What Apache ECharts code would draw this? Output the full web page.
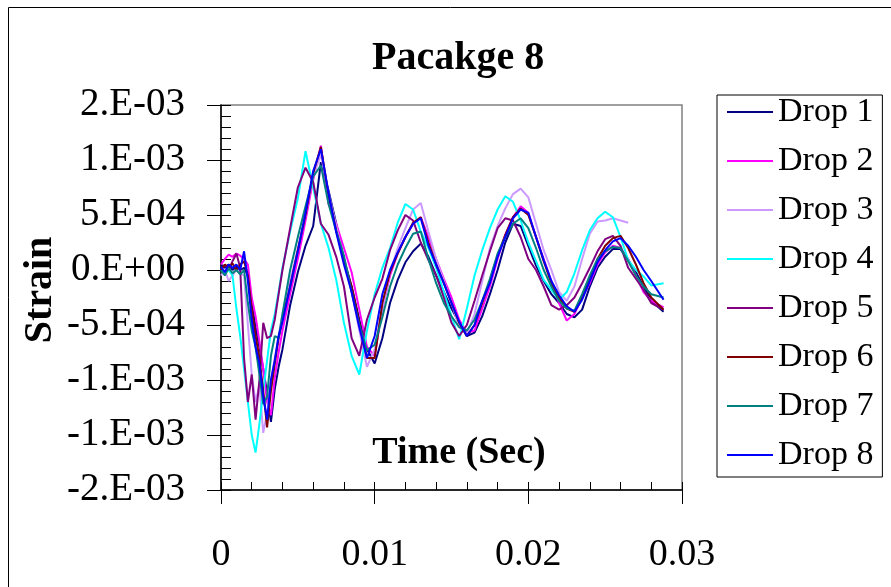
<!DOCTYPE html>
<html>
<head>
<meta charset="utf-8">
<script src="https://cdn.jsdelivr.net/npm/echarts@6/dist/echarts.min.js"></script>
<style>
  html, body { margin: 0; padding: 0; background: #fff; }
  #chart { width: 891px; height: 587px; }
</style>
</head>
<body>
<div id="chart"></div>
<script>
// time in ms, strain in units of 1e-3
const times = [0, 0.25, 0.5, 0.75, 1, 1.25, 1.5, 1.75, 2, 2.25, 2.5, 2.75, 3, 3.25, 3.5, 3.75, 4,
  4.5, 5, 5.5, 6, 6.5, 7, 7.5, 8, 8.5, 9, 9.5, 10, 10.5, 11, 11.5, 12, 12.5, 13, 13.5, 14, 14.5,
  15, 15.5, 16, 16.5, 17, 17.5, 18, 18.5, 19, 19.5, 20, 20.5, 21, 21.5, 22, 22.5, 23, 23.5, 24,
  24.5, 25, 25.5, 26, 26.5, 27, 27.5, 28, 28.8];

const drop1 = [0.05, 0.02, 0.05, 0, 0.03, 0, 0.02, -0.05, -0.3, -0.52, -0.7, -0.9, -1.12, -1.38, -1.08, -0.88, -0.72,
  -0.32, -0.02, 0.22, 0.4, 0.98, 0.72, 0.42, 0.1, -0.15, -0.45, -0.72, -0.85, -0.62, -0.3, -0.09, 0.07, 0.17, 0.24,
  0.12, -0.05, -0.2, -0.35, -0.48, -0.6, -0.57, -0.42, -0.22, 0, 0.25, 0.42, 0.4, 0.22, 0.04, -0.1, -0.22, -0.3,
  -0.4, -0.43, -0.36, -0.15, 0.02, 0.12, 0.19, 0.19, 0.09, -0.02, -0.15, -0.28, -0.38];
const drop2 = [0.05, 0.1, 0.14, 0.12, 0.15, 0.13, 0.1, 0.05, -0.25, -0.42, -0.65, -0.9, -1.2, -1.32, -0.98, -0.75, -0.55,
  -0.22, 0.1, 0.45, 0.82, 1.13, 0.6, 0.42, 0.2, -0.02, -0.36, -0.7, -0.78, -0.35, -0.05, 0.15, 0.3, 0.42, 0.48,
  0.3, 0.1, -0.08, -0.25, -0.45, -0.57, -0.55, -0.35, -0.15, 0.1, 0.32, 0.48, 0.58, 0.52, 0.3, 0.1, -0.1, -0.3,
  -0.46, -0.4, -0.25, -0.12, 0.05, 0.16, 0.22, 0.2, 0.1, -0.05, -0.2, -0.28, -0.34];
const drop3 = [-0.05, 0, -0.1, -0.05, 0, -0.03, -0.05, -0.5, -0.95, -1.2, -1.05, -1.48, -1.3, -1.0, -0.8, -0.6, -0.4,
  -0.1, 0.2, 0.5, 0.85, 1.05, 0.7, 0.4, 0.1, -0.2, -0.55, -0.88, -0.72, -0.35, -0.02, 0.2, 0.38, 0.55, 0.61,
  0.35, 0.1, -0.1, -0.3, -0.52, -0.58, -0.4, -0.1, 0.2, 0.4, 0.56, 0.69, 0.74, 0.66, 0.42, 0.18, 0, -0.2,
  -0.28, -0.15, 0.1, 0.33, 0.44, 0.45, 0.47, 0.45, 0.43, null, null, null, null];
const drop4 = [0, -0.03, 0, -0.05, -0.35, -0.6, -0.9, -1.2, -1.5, -1.66, -1.4, -1.1, -0.82, -0.55, -0.4, -0.2, 0.02,
  0.35, 0.65, 1.08, 0.75, 0.42, 0.2, -0.09, -0.48, -0.78, -0.95, -0.55, -0.22, 0.02, 0.2, 0.43, 0.6, 0.55, 0.35,
  0.2, 0.02, -0.2, -0.42, -0.63, -0.35, -0.05, 0.18, 0.38, 0.55, 0.67, 0.62, 0.45, 0.25, 0.08, -0.09, -0.18, -0.27,
  -0.2, -0.03, 0.18, 0.36, 0.47, 0.53, 0.48, 0.3, 0.09, 0, -0.06, -0.14, -0.12];
const drop5 = [0, 0.05, 0, 0.08, 0.15, 0.02, -0.8, -1.2, -0.95, -1.36, -1.0, -0.48, -0.62, -0.6, -0.45, -0.22, 0,
  0.38, 0.75, 0.93, 0.8, 0.42, 0.32, 0.12, -0.15, -0.62, -0.78, -0.45, -0.25, -0.08, 0.18, 0.36, 0.5, 0.45, 0.25,
  0.09, -0.05, -0.25, -0.48, -0.6, -0.5, -0.28, -0.05, 0.17, 0.38, 0.47, 0.45, 0.3, 0.1, 0, -0.15, -0.32, -0.36,
  -0.32, -0.25, -0.12, 0.02, 0.17, 0.28, 0.31, 0.22, 0.02, -0.08, -0.18, -0.3, -0.36];
const drop6 = [0, 0.05, 0.02, 0.06, 0, 0.05, 0.08, -0.05, -0.35, -0.6, -0.8, -1.1, -1.43, -1.1, -0.85, -0.62, -0.45,
  -0.15, 0.18, 0.5, 0.88, 1.12, 0.68, 0.36, 0.08, -0.15, -0.48, -0.8, -0.8, -0.3, -0.02, 0.15, 0.3, 0.43, 0.48,
  0.25, 0.05, -0.12, -0.3, -0.48, -0.6, -0.5, -0.3, -0.1, 0.13, 0.32, 0.48, 0.56, 0.5, 0.3, 0.08, -0.12, -0.25,
  -0.35, -0.38, -0.25, -0.08, 0.1, 0.22, 0.29, 0.31, 0.2, 0.05, -0.12, -0.25, -0.36];
const drop7 = [0, -0.05, 0.02, -0.03, 0, -0.04, 0, -0.3, -0.55, -0.7, -0.95, -1.22, -1.15, -0.78, -0.6, -0.62, -0.4,
  0, 0.3, 0.58, 0.85, 0.95, 0.6, 0.35, 0.13, -0.2, -0.5, -0.73, -0.68, -0.43, -0.15, 0.05, 0.2, 0.33, 0.35,
  0.1, -0.12, -0.3, -0.42, -0.52, -0.55, -0.45, -0.28, -0.08, 0.15, 0.3, 0.42, 0.47, 0.38, 0.2, 0, -0.15, -0.28,
  -0.35, -0.37, -0.22, -0.05, 0.1, 0.17, 0.21, 0.2, 0.08, -0.05, -0.15, -0.22, -0.25];
const drop8 = [0.03, -0.02, 0.05, 0.02, 0.05, 0, 0.17, -0.1, -0.45, -0.7, -0.85, -1.15, -1.36, -1.0, -0.82, -0.6, -0.47,
  -0.15, 0.17, 0.52, 0.9, 1.1, 0.7, 0.34, 0.05, -0.2, -0.52, -0.8, -0.6, -0.22, 0, 0.16, 0.3, 0.42, 0.47,
  0.22, 0.05, -0.12, -0.3, -0.47, -0.6, -0.5, -0.28, -0.12, 0.12, 0.3, 0.47, 0.55, 0.52, 0.3, 0.09, -0.1, -0.23,
  -0.33, -0.38, -0.27, -0.1, 0.07, 0.18, 0.26, 0.29, 0.22, 0.12, 0, -0.1, -0.27];

const seriesNames = ['Drop 1', 'Drop 2', 'Drop 3', 'Drop 4', 'Drop 5', 'Drop 6', 'Drop 7', 'Drop 8'];
const seriesValues = [drop1, drop2, drop3, drop4, drop5, drop6, drop7, drop8];
const colors = ['#000080', '#FF00FF', '#CC99FF', '#00FFFF', '#800080', '#800000', '#008080', '#0000FF'];

// y tick labels from bottom (-0.002) to top (0.0015), as printed on the chart
const yTickLabels = ['-2.E-03', '-1.E-03', '-1.E-03', '-5.E-04', '0.E+00', '5.E-04', '1.E-03', '2.E-03'];
const Y_MIN = -0.002, Y_MAX = 0.0015, Y_STEP = 0.0005;

const FONT = "'Liberation Serif', 'Times New Roman', serif";

const series = seriesNames.map((name, i) => ({
  name: name,
  type: 'line',
  xAxisIndex: 0,
  yAxisIndex: 0,
  symbol: 'none',
  connectNulls: false,
  lineStyle: { width: 2, color: colors[i] },
  itemStyle: { color: colors[i] },
  data: times.map((t, k) => [t / 1000, seriesValues[i][k] == null ? null : seriesValues[i][k] / 1000])
}));

const option = {
  animation: false,
  backgroundColor: '#fff',
  title: {
    text: 'Pacakge 8',
    left: 372,
    top: 39,
    padding: 0,
    textStyle: { fontFamily: FONT, fontSize: 40, fontWeight: 'bold', color: '#000' }
  },
  legend: {
    orient: 'vertical',
    left: 717,
    top: 95,
    padding: [0, 9, 5, 10],
    itemGap: 15,
    itemWidth: 46,
    itemHeight: 2,
    itemTextGap: 17,
    icon: 'rect',
    borderColor: '#000',
    borderWidth: 1,
    textStyle: { fontFamily: FONT, fontSize: 34, color: '#000' },
    data: seriesNames
  },
  grid: {
    left: 221, top: 105, right: 209, bottom: 97,
    outerBoundsMode: 'none',
    containLabel: false,
    show: true, borderColor: '#808080', borderWidth: 1.5, backgroundColor: 'transparent'
  },
  xAxis: [
    {
      type: 'value', min: 0, max: 0.03, interval: 0.01, position: 'bottom',
      axisLine: { show: true, onZero: false, lineStyle: { color: '#000', width: 1.5 } },
      axisTick: { show: true, inside: false, length: 14, lineStyle: { color: '#000' } },
      axisLabel: { margin: 46, fontFamily: FONT, fontSize: 38, color: '#000' },
      splitLine: { show: false }
    },
    {
      type: 'value', min: 0, max: 0.03, interval: 0.01, position: 'bottom',
      axisLine: { show: false, onZero: false },
      axisTick: { show: true, inside: true, length: 8, lineStyle: { color: '#000' } },
      minorTick: { show: true, splitNumber: 5, length: 8, lineStyle: { color: '#000' } },
      axisLabel: { show: false },
      splitLine: { show: false }
    }
  ],
  yAxis: [
    {
      type: 'value', min: Y_MIN, max: Y_MAX, interval: Y_STEP, position: 'left',
      axisLine: { show: true, onZero: false, lineStyle: { color: '#000', width: 1.5 } },
      axisTick: { show: true, inside: false, length: 14, lineStyle: { color: '#000' } },
      axisLabel: {
        margin: 36, fontFamily: FONT, fontSize: 39, color: '#000', padding: [4, 0, 0, 0],
        formatter: v => yTickLabels[Math.round((v - Y_MIN) / Y_STEP)]
      },
      splitLine: { show: false }
    },
    {
      type: 'value', min: Y_MIN, max: Y_MAX, interval: Y_STEP, position: 'left',
      axisLine: { show: false, onZero: false },
      axisTick: { show: true, inside: true, length: 10, lineStyle: { color: '#000' } },
      minorTick: { show: true, splitNumber: 5, length: 10, lineStyle: { color: '#000' } },
      axisLabel: { show: false },
      splitLine: { show: false }
    }
  ],
  graphic: [
    {
      type: 'rect',
      shape: { x: 8.5, y: 7.5, width: 1000, height: 1000 },
      style: { fill: 'none', stroke: '#000', lineWidth: 1 },
      silent: true
    },
    {
      type: 'text',
      x: 41, y: 290,
      rotation: Math.PI / 2,
      style: {
        text: 'Strain', fill: '#000', align: 'center', verticalAlign: 'middle',
        font: 'bold 40px ' + FONT
      },
      silent: true
    },
    {
      type: 'text',
      x: 459, y: 453,
      style: {
        text: 'Time (Sec)', fill: '#000', align: 'center', verticalAlign: 'middle',
        font: 'bold 38px ' + FONT
      },
      silent: true
    }
  ],
  series: series
};

const chart = echarts.init(document.getElementById('chart'), null, { renderer: 'canvas' });
chart.setOption(option);
</script>
</body>
</html>
